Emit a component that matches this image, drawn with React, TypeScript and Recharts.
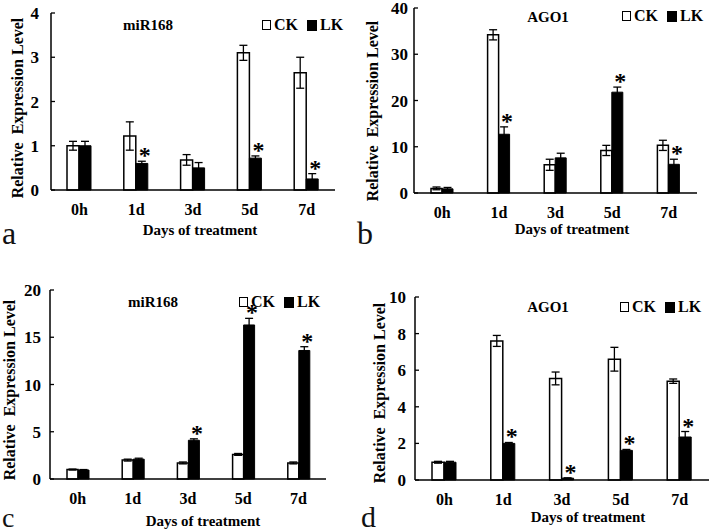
import React from "react";
import { BarChart, Bar, XAxis, YAxis, ErrorBar, LabelList } from "recharts";

const DAYS = ["0h", "1d", "3d", "5d", "7d"];

// panel a: miR168
const A_CK = [1.0, 1.22, 0.68, 3.1, 2.65];
const A_CK_ERR = [0.1, 0.32, 0.12, 0.17, 0.35];
const A_LK = [1.0, 0.6, 0.5, 0.72, 0.25];
const A_LK_ERR = [0.1, 0.05, 0.12, 0.05, 0.12];
const A_SIG = [false, true, false, true, true];

// panel b: AGO1
const B_CK = [1.0, 34.2, 6.1, 9.2, 10.3];
const B_CK_ERR = [0.3, 1.1, 1.2, 1.1, 1.1];
const B_LK = [0.9, 12.7, 7.6, 21.8, 6.2];
const B_LK_ERR = [0.3, 1.6, 1.0, 1.1, 1.1];
const B_SIG = [false, true, false, true, true];

// panel c: miR168
const C_CK = [1.0, 2.0, 1.7, 2.6, 1.7];
const C_CK_ERR = [0.05, 0.1, 0.1, 0.1, 0.1];
const C_LK = [0.95, 2.1, 4.1, 16.3, 13.6];
const C_LK_ERR = [0.05, 0.1, 0.15, 0.7, 0.4];
const C_SIG = [false, false, true, true, true];

// panel d: AGO1
const D_CK = [0.97, 7.6, 5.55, 6.6, 5.4];
const D_CK_ERR = [0.05, 0.3, 0.35, 0.65, 0.12];
const D_LK = [0.97, 2.0, 0.1, 1.62, 2.35];
const D_LK_ERR = [0.05, 0.05, 0.02, 0.05, 0.3];
const D_SIG = [false, true, true, true, true];

const SERIF = "'Liberation Serif', 'Times New Roman', serif";

interface PanelProps {
    left: number;
    top: number;
    width: number;
    height: number;
    margin: { top: number; right: number; bottom: number; left: number };
    yMax: number;
    ticks: number[];
    tickGap: number;
    barSize: number;
    ck: number[];
    ckErr: number[];
    lk: number[];
    lkErr: number[];
    sig: boolean[];
}

const Panel: React.FC<PanelProps> = (p) => {
    const data = DAYS.map((day, i) => ({
        day,
        ck: p.ck[i],
        ckErr: p.ckErr[i],
        lk: p.lk[i],
        lkErr: p.lkErr[i],
    }));
    const plotH = p.height - p.margin.top - p.margin.bottom;
    const pxPerUnit = plotH / p.yMax;

    // significance asterisk sits just above the LK error bar
    const renderStar = (props: any) => {
        const { x, y, width, index } = props;
        if (!p.sig[index]) return null;
        const cx = Number(x) + Number(width) / 2 + 3;
        const errTop = Number(y) - p.lkErr[index] * pxPerUnit;
        return (
            <text
                key={`star-${index}`}
                x={cx}
                y={errTop + 2}
                textAnchor="middle"
                fontSize={24}
                fontWeight="bold"
                fontFamily={SERIF}
                fill="#000"
            >
                *
            </text>
        );
    };

    const renderYTick = (props: any) => {
        const { x, y, payload } = props;
        const axisX = Number(x) + p.tickGap;
        return (
            <g>
                <line x1={axisX} y1={y} x2={axisX + 4} y2={y} stroke="#000" strokeWidth={1.3} />
                <text
                    x={x}
                    y={y}
                    dy={6}
                    textAnchor="end"
                    fontSize={17}
                    fontWeight="bold"
                    fontFamily={SERIF}
                    fill="#000"
                >
                    {payload.value}
                </text>
            </g>
        );
    };

    return (
        <div style={{ position: "absolute", left: p.left, top: p.top }}>
            <BarChart
                width={p.width}
                height={p.height}
                data={data}
                margin={{ top: p.margin.top, right: p.margin.right, left: 0, bottom: 0 }}
                barGap={0}
                barSize={p.barSize}
            >
                <XAxis
                    dataKey="day"
                    height={p.margin.bottom}
                    axisLine={{ stroke: "#000", strokeWidth: 1.5 }}
                    tickLine={false}
                    tickSize={0}
                    tickMargin={14}
                    tick={{ fontSize: 16, fontWeight: "bold", fontFamily: SERIF, fill: "#000" }}
                />
                <YAxis
                    width={p.margin.left}
                    domain={[0, p.yMax]}
                    ticks={p.ticks}
                    interval={0}
                    axisLine={{ stroke: "#000", strokeWidth: 1.5 }}
                    tickLine={false}
                    tickSize={0}
                    tickMargin={p.tickGap}
                    tick={renderYTick}
                />
                <Bar dataKey="ck" fill="#fff" stroke="#000" strokeWidth={1.5} isAnimationActive={false}>
                    <ErrorBar dataKey="ckErr" width={4} stroke="#000" strokeWidth={1.3} />
                </Bar>
                <Bar dataKey="lk" fill="#000" stroke="#000" strokeWidth={1} isAnimationActive={false}>
                    <ErrorBar dataKey="lkErr" width={4} stroke="#000" strokeWidth={1.3} />
                    <LabelList dataKey="lk" content={renderStar} />
                </Bar>
            </BarChart>
        </div>
    );
};

const textStyle: React.CSSProperties = {
    position: "absolute",
    fontFamily: SERIF,
    fontWeight: "bold",
    fontSize: 15,
    whiteSpace: "nowrap",
    color: "#000",
    lineHeight: 1,
};

const Centered: React.FC<{ x: number; y: number; rotate?: boolean; size?: number; children: React.ReactNode }> = ({
    x,
    y,
    rotate,
    size,
    children,
}) => (
    <div
        style={{
            ...textStyle,
            fontSize: size ?? 15,
            left: x,
            top: y,
            transform: `translate(-50%, -50%)${rotate ? " rotate(-90deg)" : ""}`,
        }}
    >
        {children}
    </div>
);

const LegendBox: React.FC<{ x: number; y: number }> = ({ x, y }) => (
    <div
        style={{
            ...textStyle,
            fontSize: 16,
            left: x,
            top: y,
            transform: "translateY(-50%)",
            display: "flex",
            alignItems: "center",
        }}
    >
        <span style={{ display: "inline-block", width: 7, height: 8, border: "1.5px solid #000", background: "#fff" }} />
        <span style={{ marginLeft: 3 }}>CK</span>
        <span style={{ display: "inline-block", width: 10, height: 11, background: "#000", marginLeft: 9 }} />
        <span style={{ marginLeft: 3 }}>LK</span>
    </div>
);

const Letter: React.FC<{ x: number; y: number; size: number; children: React.ReactNode }> = ({ x, y, size, children }) => (
    <div
        style={{
            position: "absolute",
            left: x,
            top: y,
            fontFamily: SERIF,
            fontWeight: "normal",
            fontSize: size,
            lineHeight: 1,
            color: "#111",
        }}
    >
        {children}
    </div>
);

export default function App() {
    return (
        <div
            style={{
                position: "absolute",
                left: 0,
                top: 0,
                width: 709,
                height: 532,
                background: "#fff",
                overflow: "hidden",
            }}
        >
            <Panel
                left={0}
                top={0}
                width={354}
                height={266}
                margin={{ top: 13, right: 19, bottom: 76, left: 51 }}
                yMax={4}
                ticks={[0, 1, 2, 3, 4]}
                tickGap={12}
                barSize={12}
                ck={A_CK}
                ckErr={A_CK_ERR}
                lk={A_LK}
                lkErr={A_LK_ERR}
                sig={A_SIG}
            />
            <Panel
                left={355}
                top={0}
                width={354}
                height={266}
                margin={{ top: 8, right: 12, bottom: 73, left: 59 }}
                yMax={40}
                ticks={[0, 10, 20, 30, 40]}
                tickGap={6}
                barSize={11}
                ck={B_CK}
                ckErr={B_CK_ERR}
                lk={B_LK}
                lkErr={B_LK_ERR}
                sig={B_SIG}
            />
            <Panel
                left={0}
                top={266}
                width={354}
                height={266}
                margin={{ top: 24, right: 28, bottom: 53, left: 50 }}
                yMax={20}
                ticks={[0, 5, 10, 15, 20]}
                tickGap={9}
                barSize={11}
                ck={C_CK}
                ckErr={C_CK_ERR}
                lk={C_LK}
                lkErr={C_LK_ERR}
                sig={C_SIG}
            />
            <Panel
                left={355}
                top={266}
                width={354}
                height={266}
                margin={{ top: 31, right: 0, bottom: 52, left: 60 }}
                yMax={10}
                ticks={[0, 2, 4, 6, 8, 10]}
                tickGap={9}
                barSize={12}
                ck={D_CK}
                ckErr={D_CK_ERR}
                lk={D_LK}
                lkErr={D_LK_ERR}
                sig={D_SIG}
            />

            <Centered x={148} y={25}>miR168</Centered>
            <Centered x={548} y={17}>AGO1</Centered>
            <Centered x={153} y={302}>miR168</Centered>
            <Centered x={548} y={307}>AGO1</Centered>

            <LegendBox x={262} y={25} />
            <LegendBox x={622} y={16} />
            <LegendBox x={239} y={302} />
            <LegendBox x={620} y={307} />

            <Centered x={200} y={230}>Days of treatment</Centered>
            <Centered x={572} y={229}>Days of treatment</Centered>
            <Centered x={203} y={521}>Days of treatment</Centered>
            <Centered x={588} y={517}>Days of treatment</Centered>

            <Centered x={18} y={108} rotate size={16}>Relative&nbsp;&nbsp;Expression Level</Centered>
            <Centered x={373} y={111} rotate size={16}>Relative&nbsp;&nbsp;Expression Level</Centered>
            <Centered x={10} y={390} rotate size={16}>Relative&nbsp;&nbsp;Expression Level</Centered>
            <Centered x={380} y={393} rotate size={16}>Relative&nbsp;&nbsp;Expression Level</Centered>

            <Letter x={2} y={217} size={32}>a</Letter>
            <Letter x={357} y={217} size={32}>b</Letter>
            <Letter x={2} y={504} size={28}>c</Letter>
            <Letter x={361} y={502} size={30}>d</Letter>
        </div>
    );
}
